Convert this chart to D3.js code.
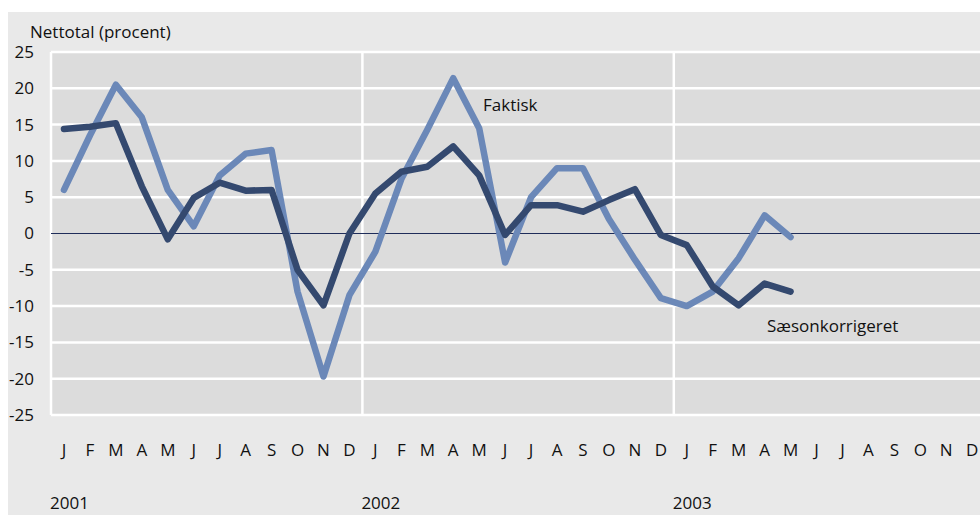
<!DOCTYPE html>
<html>
<head>
<meta charset="utf-8">
<script src="https://cdn.jsdelivr.net/npm/d3@7"></script>
<style>
  body { margin: 0; background: #fff; }
  text { font-family: "Open Sans", "Noto Sans", sans-serif; fill: #111; }
</style>
</head>
<body>
<svg id="chart" width="980" height="515"></svg>
<script>
// Month labels (3 years)
const monthLetters = ["J","F","M","A","M","J","J","A","S","O","N","D"];
const years = ["2001", "2002", "2003"];
const yTicks = [25, 20, 15, 10, 5, 0, -5, -10, -15, -20, -25];

// Faktisk (actual), Jan 2001 - May 2003
const faktisk = [6, 13.5, 20.5, 16, 6, 1, 8, 11, 11.5, -8, -19.7, -8.5,
                 -2.5, 7.5, 14.3, 21.4, 14.5, -4, 5, 9, 9, 2, -3.6, -8.9,
                 -10, -8, -3.4, 2.5, -0.5];
// Sæsonkorrigeret (seasonally adjusted)
const saeson = [14.4, 14.7, 15.2, 6.5, -0.8, 4.9, 7, 5.9, 6, -5, -9.9, 0,
                5.5, 8.5, 9.2, 12, 8, -0.2, 3.9, 3.9, 3, 4.6, 6.1, -0.2,
                -1.6, -7.3, -9.9, -6.9, -8];

const svg = d3.select("#chart");
const plot = { left: 51, top: 52, bottom: 415 };
const band = 25.95;

// Outer panel
svg.append("rect")
    .attr("x", 8).attr("y", 12)
    .attr("width", 972).attr("height", 503)
    .attr("fill", "#e9e9e9");

const months = d3.range(36);
const x = d3.scaleBand()
    .domain(months)
    .range([plot.left, plot.left + band * 36]);

const y = d3.scaleLinear()
    .domain([-25, 25])
    .range([plot.bottom, plot.top]);

// Plot area
svg.append("rect")
    .attr("x", plot.left).attr("y", plot.top)
    .attr("width", 980 - plot.left).attr("height", plot.bottom - plot.top)
    .attr("fill", "#dcdcdc");

// Horizontal grid lines
svg.append("g")
    .selectAll("line")
    .data(yTicks.filter(d => d !== 0))
    .join("line")
    .attr("x1", plot.left).attr("x2", 980)
    .attr("y1", d => y(d)).attr("y2", d => y(d))
    .attr("stroke", "#fff")
    .attr("stroke-width", 2.5);

// Vertical year separators
svg.append("g")
    .selectAll("line")
    .data([0, 12, 24])
    .join("line")
    .attr("x1", d => x(d)).attr("x2", d => x(d))
    .attr("y1", plot.top).attr("y2", plot.bottom)
    .attr("stroke", "#fff")
    .attr("stroke-width", 2.5);

// Zero line
svg.append("line")
    .attr("x1", plot.left).attr("x2", 980)
    .attr("y1", y(0)).attr("y2", y(0))
    .attr("stroke", "#1f2d5a")
    .attr("stroke-width", 1);

// Y tick labels
svg.append("g")
    .selectAll("text")
    .data(yTicks)
    .join("text")
    .attr("x", 34)
    .attr("y", d => y(d))
    .attr("dy", "0.35em")
    .attr("text-anchor", "end")
    .style("font-size", "17px")
    .text(d => d);

// Month labels
svg.append("g")
    .selectAll("text")
    .data(months)
    .join("text")
    .attr("x", d => x(d) + x.bandwidth() / 2)
    .attr("y", 456)
    .attr("text-anchor", "middle")
    .style("font-size", "17px")
    .text(d => monthLetters[d % 12]);

// Year labels
svg.append("g")
    .selectAll("text")
    .data(years)
    .join("text")
    .attr("x", (d, i) => x(i * 12) - 1)
    .attr("y", 509)
    .style("font-size", "17px")
    .text(d => d);

// Axis title
svg.append("text")
    .attr("x", 30).attr("y", 38)
    .style("font-size", "17px")
    .text("Nettotal (procent)");

const line = d3.line()
    .x((d, i) => x(i) + x.bandwidth() / 2)
    .y(d => y(d));

svg.append("path")
    .datum(faktisk)
    .attr("fill", "none")
    .attr("stroke", "#6b88b8")
    .attr("stroke-width", 6.5)
    .attr("stroke-linejoin", "round")
    .attr("stroke-linecap", "round")
    .attr("d", line);

svg.append("path")
    .datum(saeson)
    .attr("fill", "none")
    .attr("stroke", "#34496f")
    .attr("stroke-width", 6.5)
    .attr("stroke-linejoin", "round")
    .attr("stroke-linecap", "round")
    .attr("d", line);

// Series labels
svg.append("text")
    .attr("x", 483).attr("y", 111)
    .style("font-size", "17px")
    .text("Faktisk");

svg.append("text")
    .attr("x", 767).attr("y", 332)
    .style("font-size", "17px")
    .text("Sæsonkorrigeret");
</script>
</body>
</html>
